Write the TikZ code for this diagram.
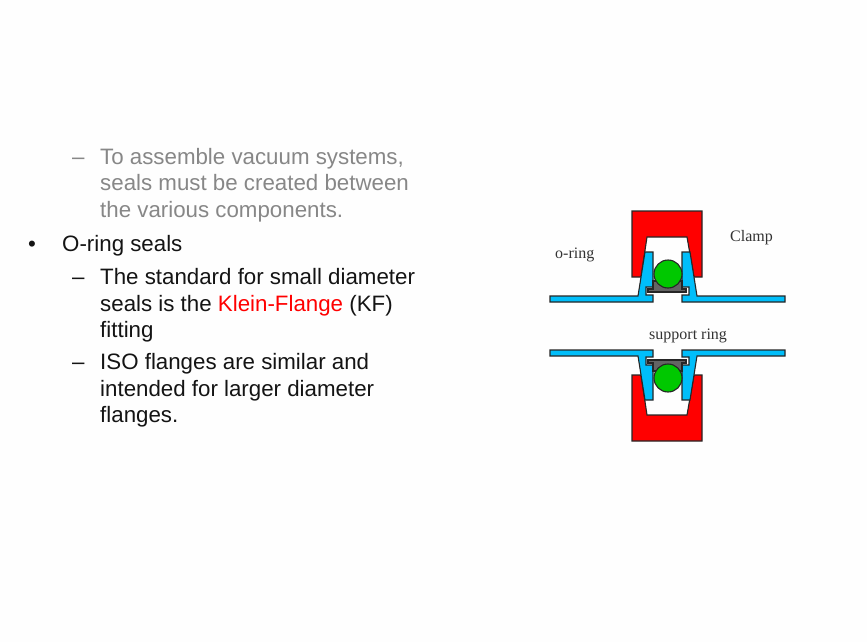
\documentclass[tikz,border=0pt]{standalone}
\usepackage{fontspec}
\setmainfont{Liberation Sans}
\newfontfamily\figfont{Liberation Serif}
\definecolor{flangeblue}{RGB}{0,190,250}
\definecolor{clampred}{RGB}{255,0,0}
\definecolor{ringgreen}{RGB}{0,200,0}
\definecolor{ringgray}{RGB}{100,100,100}
\definecolor{textblack}{RGB}{20,20,20}
\definecolor{fadedtext}{RGB}{135,135,135}
\definecolor{paper}{RGB}{254,254,254}
\tikzset{
  part/.style={draw=black!85,line width=1.1pt,line join=miter},
  bodytext/.style={anchor=base west,inner sep=0pt,font=\fontsize{22.3}{26}\selectfont,text=textblack},
  figlabel/.style={anchor=base west,inner sep=0pt,font=\figfont\fontsize{16}{18}\selectfont,text=black!80}
}
\newcommand{\sealhalf}{%
  \path[part,fill=clampred] (632,211) -- (702,211) -- (702,277) -- (694,277) -- (687,237) -- (647,237) -- (641,277) -- (632,277) -- cycle;
  \path[part,fill=flangeblue] (645,252) -- (653,252) -- (653,287) -- (646,287) -- (646,295) -- (653,295) -- (653,302) -- (550,302) -- (550,296) -- (638,296) -- cycle;
  \path[part,fill=flangeblue] (690,252) -- (682,252) -- (682,287) -- (689,287) -- (689,295) -- (682,295) -- (682,302) -- (785,302) -- (785,296) -- (697,296) -- cycle;
  \path[part,fill=ringgray] (653,281) -- (682,281) -- (682,289) -- (686,289) -- (686,292) -- (648,292) -- (648,289) -- (653,289) -- cycle;
  \path[part,fill=ringgreen] (668,274) circle (14);
}
\begin{document}
\begin{tikzpicture}[x=1pt,y=-1pt]
\useasboundingbox (0,0) rectangle (867,642);
\fill[paper] (0,0) rectangle (867,642);
\sealhalf
\begin{scope}[shift={(0,652)},yscale=-1]
\sealhalf
\end{scope}
\node[bodytext,text=fadedtext] (d1) at (72,164) {–};
\node[bodytext,text=fadedtext] (l1) at (100,164) {To assemble vacuum systems,};
\node[bodytext,text=fadedtext] (l2) at (100,190) {seals must be created between};
\node[bodytext,text=fadedtext] (l3) at (100,217) {the various components.};
\node[bodytext] (b1) at (28,251) {•};
\node[bodytext] (l4) at (62,251) {O-ring seals};
\node[bodytext] (d2) at (72,284) {–};
\node[bodytext] (l5) at (100,284) {The standard for small diameter};
\node[bodytext] (l6) at (100,311) {seals is the \textcolor{clampred}{Klein-Flange} (KF)};
\node[bodytext] (l7) at (100,337) {fitting};
\node[bodytext] (d3) at (72,369) {–};
\node[bodytext] (l8) at (100,369) {ISO flanges are similar and};
\node[bodytext] (l9) at (100,396) {intended for larger diameter};
\node[bodytext] (l10) at (100,422) {flanges.};
\node[figlabel] (oring) at (555,258) {o-ring};
\node[figlabel] (clamp) at (730,241) {Clamp};
\node[figlabel] (support) at (649,339) {support ring};
\end{tikzpicture}
\end{document}
